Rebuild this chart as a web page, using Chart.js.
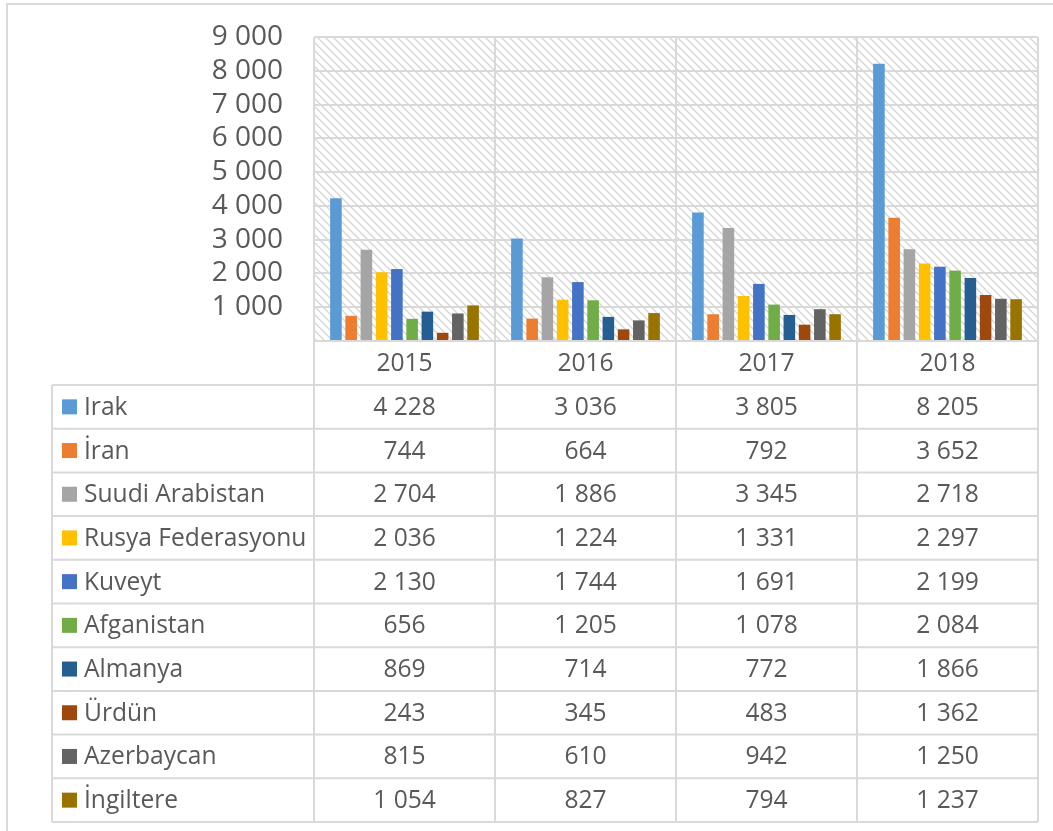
<!DOCTYPE html>
<html>
<head>
<meta charset="utf-8">
<script src="https://cdn.jsdelivr.net/npm/chart.js@4/dist/chart.umd.min.js"></script>
<style>
  html, body { margin: 0; padding: 0; background: #fff; }
  #wrap { width: 1053px; height: 831px; position: relative; }
</style>
</head>
<body>
<div id="wrap"><canvas id="touristChart" width="1053" height="831"></canvas></div>
<script>
// years (categories)
const years = ['2015', '2016', '2017', '2018'];

// series values, one per country
const irak = [4228, 3036, 3805, 8205];
const iran = [744, 664, 792, 3652];
const suudiArabistan = [2704, 1886, 3345, 2718];
const rusyaFederasyonu = [2036, 1224, 1331, 2297];
const kuveyt = [2130, 1744, 1691, 2199];
const afganistan = [656, 1205, 1078, 2084];
const almanya = [869, 714, 772, 1866];
const urdun = [243, 345, 483, 1362];
const azerbaycan = [815, 610, 942, 1250];
const ingiltere = [1054, 827, 794, 1237];

const yTicks = [1000, 2000, 3000, 4000, 5000, 6000, 7000, 8000, 9000];

const TEXT = '#595959';
const GRID = '#d9d9d9';
const FONT = "'Open Sans', 'DejaVu Sans', sans-serif";

const series = [
    { label: 'Irak', data: irak, color: '#5B9BD5' },
    { label: 'İran', data: iran, color: '#ED7D31' },
    { label: 'Suudi Arabistan', data: suudiArabistan, color: '#A5A5A5' },
    { label: 'Rusya Federasyonu', data: rusyaFederasyonu, color: '#FFC000' },
    { label: 'Kuveyt', data: kuveyt, color: '#4472C4' },
    { label: 'Afganistan', data: afganistan, color: '#70AD47' },
    { label: 'Almanya', data: almanya, color: '#255E91' },
    { label: 'Ürdün', data: urdun, color: '#9E480E' },
    { label: 'Azerbaycan', data: azerbaycan, color: '#636363' },
    { label: 'İngiltere', data: ingiltere, color: '#997300' }
];

// "4 228" style thousands separator
function fmt(v) {
    return String(v).replace(/\B(?=(\d{3})+(?!\d))/g, ' ');
}

// diagonal hatch for the plot area background
function makeHatch(ctx) {
    const c = document.createElement('canvas');
    c.width = 8; c.height = 8;
    const p = c.getContext('2d');
    p.fillStyle = '#fff';
    p.fillRect(0, 0, 8, 8);
    p.strokeStyle = '#d4d4d4';
    p.lineWidth = 1.3;
    p.beginPath();
    p.moveTo(-2, -2); p.lineTo(10, 10);
    p.moveTo(-2, 6); p.lineTo(2, 10);
    p.moveTo(6, -2); p.lineTo(10, 2);
    p.stroke();
    return ctx.createPattern(c, 'repeat');
}

const ROW_H = 43.7;
const TABLE_LEFT = 52;

const hatchPlugin = {
    id: 'hatchBg',
    beforeDraw(chart) {
        const { ctx, chartArea: a } = chart;
        ctx.save();
        // outer chart frame
        ctx.strokeStyle = GRID;
        ctx.lineWidth = 2;
        ctx.strokeRect(7, 4, 1060, 860);
        ctx.fillStyle = makeHatch(ctx);
        ctx.fillRect(a.left, a.top, a.right - a.left, a.bottom - a.top);
        ctx.restore();
    }
};

// data table under the axis, columns taken from the x scale
const dataTablePlugin = {
    id: 'dataTable',
    afterDraw(chart) {
        const { ctx, chartArea: a } = chart;
        const x = chart.scales.x;
        const colW = (a.right - a.left) / years.length;
        const yearTop = a.bottom;
        const top = yearTop + 44;
        const bottom = top + ROW_H * series.length;

        ctx.save();
        ctx.strokeStyle = GRID;
        ctx.lineWidth = 2;
        ctx.beginPath();
        // vertical lines through the year row and table
        for (let i = 0; i <= years.length; i++) {
            const vx = a.left + i * colW;
            ctx.moveTo(vx, yearTop);
            ctx.lineTo(vx, bottom);
        }
        ctx.moveTo(TABLE_LEFT, top);
        ctx.lineTo(TABLE_LEFT, bottom);
        for (let r = 0; r <= series.length; r++) {
            const hy = top + r * ROW_H;
            ctx.moveTo(TABLE_LEFT, hy);
            ctx.lineTo(a.right, hy);
        }
        ctx.stroke();

        ctx.font = '24.6px ' + FONT;
        ctx.textBaseline = 'middle';
        series.forEach((s, r) => {
            const cy = top + r * ROW_H + ROW_H / 2;
            ctx.fillStyle = s.color;
            ctx.fillRect(62, cy - 7.5, 15, 15);
            ctx.fillStyle = TEXT;
            ctx.textAlign = 'left';
            ctx.fillText(s.label, 84, cy + 1);
            ctx.textAlign = 'center';
            s.data.forEach((v, i) => {
                ctx.fillText(fmt(v), x.getPixelForValue(i), cy + 1);
            });
        });
        ctx.restore();
    }
};

const ctx = document.getElementById('touristChart');
new Chart(ctx, {
    type: 'bar',
    data: {
        labels: years,
        datasets: series.map(s => ({
            label: s.label,
            data: s.data,
            backgroundColor: s.color,
            borderWidth: 0,
            barPercentage: 0.76,
            categoryPercentage: 0.842
        }))
    },
    options: {
        responsive: false,
        animation: false,
        layout: {
            padding: { top: 37, right: 15, bottom: 446, left: 0 }
        },
        plugins: {
            legend: { display: false },
            tooltip: { enabled: false }
        },
        scales: {
            x: {
                grid: {
                    offset: true,
                    color: GRID,
                    lineWidth: 2,
                    drawTicks: false
                },
                border: { color: GRID, width: 2 },
                ticks: {
                    color: TEXT,
                    padding: 8,
                    font: { family: FONT, size: 24.6 }
                },
                afterFit(scale) {
                    scale.height = 44;
                    scale.paddingLeft = 0;
                    scale.paddingRight = 0;
                }
            },
            y: {
                min: 0,
                max: 9000,
                grid: {
                    color: GRID,
                    lineWidth: 2,
                    drawTicks: false
                },
                border: { display: false },
                afterBuildTicks(scale) {
                    scale.ticks = [0].concat(yTicks).map(v => ({ value: v }));
                },
                ticks: {
                    autoSkip: false,
                    color: TEXT,
                    padding: 31,
                    font: { family: FONT, size: 28, lineHeight: 1 },
                    callback: v => (v === 0 ? '' : fmt(v))
                },
                afterFit(scale) {
                    scale.width = 314;
                    scale.paddingTop = 0;
                    scale.paddingBottom = 0;
                }
            }
        }
    },
    plugins: [hatchPlugin, dataTablePlugin]
});
</script>
</body>
</html>
